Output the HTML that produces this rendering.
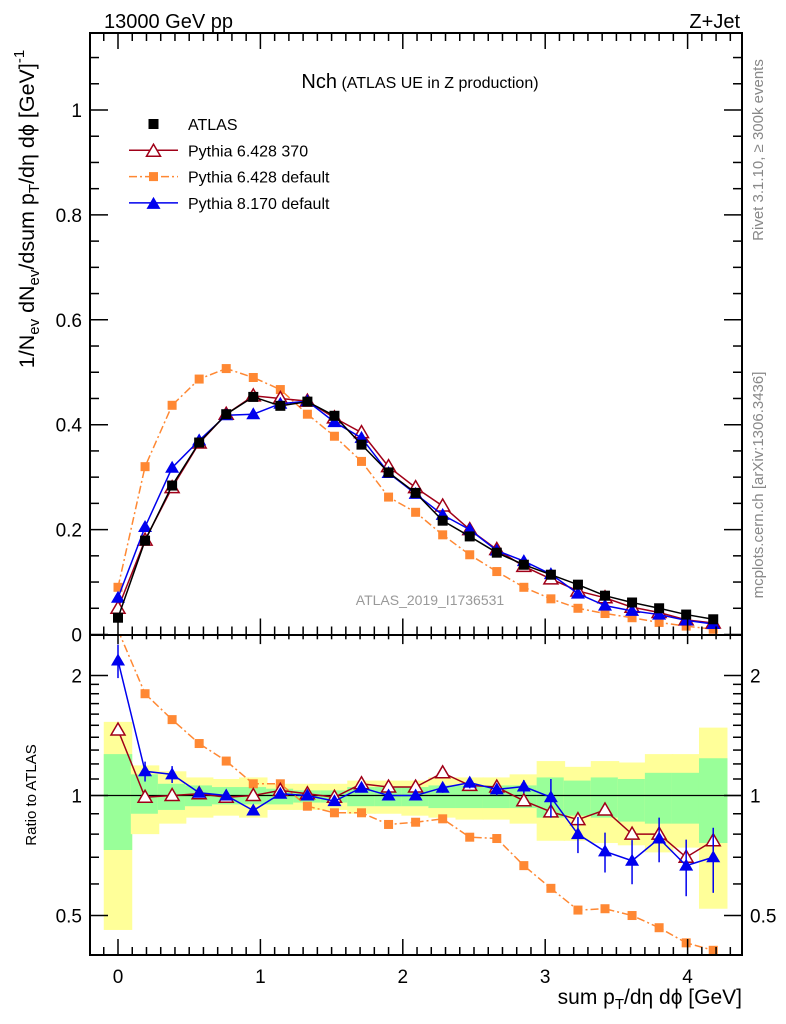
<!DOCTYPE html>
<html><head><meta charset="utf-8"><style>
html,body{margin:0;padding:0;background:#fff;}
svg{display:block;font-family:"Liberation Sans",sans-serif;}
</style></head><body>
<svg id="c" width="786" height="1024" viewBox="0 0 786 1024" xmlns="http://www.w3.org/2000/svg">
<defs>
<clipPath id="clipMain"><rect x="90" y="33" width="652" height="602"/></clipPath>
<clipPath id="clipRatio"><rect x="90" y="635" width="652" height="320"/></clipPath>
</defs>
<g id="bands" clip-path="url(#clipRatio)"></g>
<g id="marks"></g>
<g id="axes"></g>
<text x="104" y="28" font-size="20">13000 GeV pp</text>
<text x="740" y="28" font-size="20" text-anchor="end">Z+Jet</text>
<text x="420" y="88" text-anchor="middle"><tspan font-size="20">Nch</tspan><tspan font-size="16"> (ATLAS UE in Z production)</tspan></text>
<text x="430" y="605" font-size="14" fill="#999" text-anchor="middle">ATLAS_2019_I1736531</text>
<text transform="translate(763,150) rotate(-90)" font-size="15" fill="#888" text-anchor="middle">Rivet 3.1.10, ≥ 300k events</text>
<text transform="translate(763,485) rotate(-90)" font-size="15" fill="#888" text-anchor="middle">mcplots.cern.ch [arXiv:1306.3436]</text>
<text transform="translate(34,209) rotate(-90)" font-size="21.5" text-anchor="middle">1/N<tspan font-size="15" dy="5">ev</tspan><tspan dy="-5"> dN</tspan><tspan font-size="15" dy="5">ev</tspan><tspan dy="-5">/dsum p</tspan><tspan font-size="15" dy="5">T</tspan><tspan dy="-5">/dη dϕ  [GeV]</tspan><tspan font-size="15" dy="-10">-1</tspan></text>
<text transform="translate(36,795) rotate(-90)" font-size="15" text-anchor="middle">Ratio to ATLAS</text>
<text x="742" y="1004" font-size="21" text-anchor="end">sum p<tspan font-size="15" dy="5">T</tspan><tspan dy="-5">/dη dϕ [GeV]</tspan></text>
<g id="legend"></g>
</svg>
<script>
const xs=[0,0.19,0.38,0.57,0.76,0.95,1.14,1.33,1.52,1.71,1.9,2.09,2.28,2.47,2.66,2.85,3.04,3.23,3.42,3.61,3.8,3.99,4.18];
const atlas=[0.032,0.179,0.284,0.366,0.42,0.453,0.436,0.444,0.417,0.362,0.309,0.27,0.217,0.187,0.156,0.133,0.114,0.095,0.074,0.061,0.05,0.038,0.029];
const py370=[0.05,0.18,0.28,0.365,0.42,0.455,0.45,0.445,0.413,0.385,0.32,0.28,0.245,0.2,0.162,0.13,0.106,0.083,0.07,0.052,0.042,0.028,0.022];
const pydef=[0.09,0.32,0.437,0.487,0.507,0.49,0.467,0.42,0.378,0.33,0.262,0.233,0.19,0.152,0.12,0.09,0.068,0.05,0.04,0.032,0.023,0.016,0.01];
const py8=[0.07,0.205,0.318,0.37,0.418,0.42,0.44,0.445,0.405,0.375,0.308,0.268,0.228,0.2,0.16,0.14,0.115,0.078,0.055,0.045,0.038,0.027,0.02];
const r370=[1.46,0.99,1.0,1.01,0.99,1.0,1.03,1.01,0.99,1.07,1.05,1.05,1.14,1.06,1.05,0.97,0.91,0.87,0.92,0.80,0.80,0.70,0.77];
const rdef=[2.6,1.80,1.55,1.35,1.22,1.07,1.07,0.94,0.905,0.905,0.846,0.857,0.874,0.786,0.78,0.667,0.585,0.516,0.52,0.50,0.466,0.427,0.409];
const r8=[2.18,1.15,1.13,1.016,1.0,0.917,1.01,1.0,0.968,1.046,1.0,1.0,1.046,1.077,1.036,1.053,0.99,0.80,0.724,0.686,0.78,0.667,0.70];
const r8err=[0.21,0.066,0.055,0.025,0.02,0.02,0.02,0.02,0.02,0.025,0.025,0.025,0.03,0.035,0.035,0.04,0.11,0.083,0.083,0.087,0.10,0.108,0.13];
const yHi=[1.53,1.19,1.15,1.11,1.10,1.11,1.07,1.07,1.07,1.09,1.09,1.09,1.11,1.11,1.11,1.13,1.22,1.18,1.22,1.21,1.27,1.27,1.48];
const yLo=[0.46,0.80,0.85,0.88,0.89,0.88,0.92,0.92,0.92,0.90,0.90,0.89,0.88,0.87,0.87,0.85,0.77,0.77,0.76,0.75,0.72,0.74,0.52];
const gHi=[1.27,1.13,1.07,1.06,1.05,1.05,1.04,1.03,1.03,1.05,1.05,1.05,1.06,1.06,1.06,1.06,1.11,1.09,1.11,1.10,1.14,1.14,1.24];
const gLo=[0.73,0.90,0.92,0.94,0.95,0.95,0.95,0.96,0.96,0.94,0.94,0.94,0.93,0.93,0.93,0.93,0.88,0.89,0.88,0.86,0.85,0.85,0.76];
const xTicks=[0,1,2,3,4];
const yTicks=[0,0.2,0.4,0.6,0.8,1];
const yTickLabels=["0","0.2","0.4","0.6","0.8","1"];
const rTicks=[0.5,1,2];
const rTickLabels=["0.5","1","2"];

const NS="http://www.w3.org/2000/svg";
const X=v=>118+v*142.4;
const Y=v=>634.5-v*524.5;
const R=r=>795.5-398.7*Math.log10(r);
function mk(tag,attrs,parent){const e=document.createElementNS(NS,tag);for(const k in attrs)e.setAttribute(k,attrs[k]);parent.appendChild(e);return e;}
const bands=document.getElementById('bands'),marks=document.getElementById('marks'),axes=document.getElementById('axes'),leg=document.getElementById('legend');
const hw=0.1;
xs.forEach((x,i)=>{
  const a=mk('rect',{x:X(x-hw),y:R(yHi[i]),width:X(x+hw)-X(x-hw),height:R(yLo[i])-R(yHi[i]),fill:'#ffff99'},bands);
  
  
  const g=mk('rect',{x:X(x-hw),y:R(gHi[i]),width:X(x+hw)-X(x-hw),height:R(gLo[i])-R(gHi[i]),fill:'#99ff99'},bands);
  
  
});
const one=mk('line',{x1:90,x2:742,y1:R(1),y2:R(1),stroke:'#000','stroke-width':1.3},bands);



function marker(type,cx,cy,color,parent){
  let e;
  if(type==='sq'){e=mk('rect',{x:cx-5,y:cy-5,width:10,height:10,fill:color},parent);}
  else if(type==='sqs'){e=mk('rect',{x:cx-4.5,y:cy-4.5,width:9,height:9,fill:color},parent);}
  else if(type==='tri'){e=mk('polygon',{points:`${cx},${cy-7} ${cx-7},${cy+5} ${cx+7},${cy+5}`,fill:color},parent);}
  else {e=mk('polygon',{points:`${cx},${cy-7} ${cx-7},${cy+5} ${cx+7},${cy+5}`,fill:'#fff',stroke:color,'stroke-width':1.5},parent);}
  return e;
}
function series(vals,fy,color,type,dash,clip,name,errs){
  const g=mk('g',{'clip-path':clip},marks);
  
  
  const pts=xs.map((x,i)=>X(x)+','+fy(vals[i])).join(' ');
  const pl=mk('polyline',{points:pts,fill:'none',stroke:color,'stroke-width':1.5,'stroke-dasharray':dash||'none'},g);
  
  
  xs.forEach((x,i)=>{
    if(errs){
      const e=mk('line',{x1:X(x),x2:X(x),y1:fy(vals[i]+errs[i]),y2:fy(Math.max(vals[i]-errs[i],0.01)),stroke:color,'stroke-width':1.5},g);
      
      
    }
    const m=marker(type,X(x),fy(vals[i]),color,g);
    
    
  });
}
const py8err=r8err.map((e,i)=>e*atlas[i]*0.5);
series(pydef,Y,'#ff8833','sqs','8,3,2,3','url(#clipMain)','pythia6-default-main');
series(py370,Y,'#a00018','otri',null,'url(#clipMain)','pythia6-370-main');
series(py8,Y,'#0000ee','tri',null,'url(#clipMain)','pythia8-main',py8err);
series(atlas,Y,'#000','sq',null,'url(#clipMain)','atlas-data');
series(rdef,R,'#ff8833','sqs','8,3,2,3','url(#clipRatio)','pythia6-default-ratio');
series(r370,R,'#a00018','otri',null,'url(#clipRatio)','pythia6-370-ratio');
series(r8,R,'#0000ee','tri',null,'url(#clipRatio)','pythia8-ratio',r8err);

[[90,33,652,602,'main-frame'],[90,635,652,320,'ratio-frame']].forEach(f=>{
  const r=mk('rect',{x:f[0],y:f[1],width:f[2],height:f[3],fill:'none',stroke:'#000','stroke-width':2},axes);
  
  
});
function tk(x1,y1,x2,y2){const l=mk('line',{x1,y1,x2,y2,stroke:'#000','stroke-width':1.5},axes);}
for(let k=-1;k<=43;k++){const v=k/10;const x=X(v);if(x<91||x>741)continue;const major=k%10===0;const L=major?16:8;
  tk(x,33,x,33+L);tk(x,634.5-L,x,634.5);tk(x,634.5,x,634.5+L*0.6);tk(x,955-L,x,955);}
xTicks.forEach(v=>{const t=mk('text',{x:X(v),y:983,'font-size':19,'text-anchor':'middle'},axes);t.textContent=String(v);});
for(let k=0;k<=22;k++){const v=k*0.05;const y=Y(v);if(y<34)continue;const major=k%4===0;const L=major?18:9;tk(90,y,90+L,y);tk(742-L,y,742,y);}
yTicks.forEach((v,i)=>{const t=mk('text',{x:82,y:Y(v)+7,'font-size':19,'text-anchor':'end'},axes);t.textContent=yTickLabels[i];});
[0.4,0.5,0.6,0.7,0.8,0.9,1,1.1,1.2,1.3,1.4,1.5,1.6,1.7,1.8,1.9,2].forEach(v=>{const y=R(v);if(y>954||y<636)return;const major=rTicks.includes(v);const L=major?18:9;tk(90,y,90+L,y);tk(742-L,y,742,y);});
rTicks.forEach((v,i)=>{
  const t=mk('text',{x:82,y:R(v)+7,'font-size':19,'text-anchor':'end'},axes);t.textContent=rTickLabels[i];
  const t2=mk('text',{x:750,y:R(v)+7,'font-size':19},axes);t2.textContent=rTickLabels[i];
});
const lg=[['ATLAS','#000','sq',null],['Pythia 6.428 370','#a00018','otri',null],['Pythia 6.428 default','#ff8833','sqs','8,3,2,3'],['Pythia 8.170 default','#0000ee','tri',null]];
lg.forEach((e,i)=>{const y=124+i*26.3;
  const g=mk('g',{},leg);
  
  
  if(i>0)mk('line',{x1:129,x2:178,y1:y,y2:y,stroke:e[1],'stroke-width':1.5,'stroke-dasharray':e[3]||'none'},g);
  marker(e[2],153.5,y+(e[2].indexOf('tri')>=0?1:0),e[1],g);
  const t=mk('text',{x:188,y:y+6,'font-size':16},g);t.textContent=e[0];});
</script>
</body></html>
